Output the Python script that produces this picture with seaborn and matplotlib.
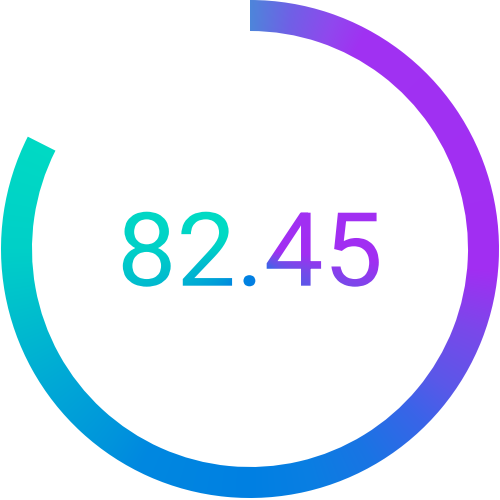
import numpy as np
import matplotlib
matplotlib.use("Agg")
import matplotlib.pyplot as plt
import seaborn as sns
from matplotlib.patches import Wedge, PathPatch
from matplotlib.textpath import TextPath
from matplotlib.font_manager import FontProperties
from matplotlib.transforms import Affine2D
from matplotlib.colors import to_rgb

# gauge value
value = 82.45
max_value = 100
label = "82.45"

# conic gradient stops (degrees clockwise from 12 o'clock)
stop_angles = [0, 10, 20, 28, 95, 110, 125, 135, 150, 165, 180, 207, 216, 235, 257, 270, 297, 360]
stop_colors = ["#4d86da", "#7060e6", "#9048ee", "#a032f2", "#a22ef2", "#7a48ea", "#5a58e8",
               "#3a64e8", "#1a74e4", "#0a7ee2", "#0080e2", "#0088e0", "#0094dc", "#00a8d6",
               "#00c2cc", "#00d0c8", "#00dac4", "#00dac4"]

sns.set_theme(style="white")

W = H = 500
cx, cy = 250, 500 - 249
r_out, ring_w = 249, 31
sweep = value / max_value * 360


def draw_shapes(ax):
    ax.set_xlim(0, W)
    ax.set_ylim(0, H)
    ax.axis("off")
    ring = Wedge((cx, cy), r_out, 90 - sweep, 90, width=ring_w,
                 facecolor="black", edgecolor="none")
    ax.add_patch(ring)
    fp = FontProperties(family="Roboto", weight="normal")
    tp = TextPath((0, 0), label, size=100, prop=fp)
    ext = tp.get_extents()
    s = 75 / ext.height
    sx = 256 / (ext.width * s)  # match the reference text width
    tr = (Affine2D().translate(-ext.x0 - ext.width / 2, -ext.y0 - ext.height / 2)
          .scale(s * sx, s).translate(250.8, H - 249.2))
    ax.add_patch(PathPatch(tr.transform_path(tp), facecolor="black", edgecolor="none"))


# render the shapes once in black to get an antialiased mask
fig_m = plt.figure(figsize=(5, 5), dpi=100)
ax_m = fig_m.add_axes([0, 0, 1, 1])
draw_shapes(ax_m)
fig_m.canvas.draw()
buf = np.asarray(fig_m.canvas.buffer_rgba()).astype(float)
mask = 1 - buf[..., 0] / 255.0
plt.close(fig_m)

# conic gradient over the whole canvas
xs = np.arange(W) + 0.5
ys = H - (np.arange(H) + 0.5)
X, Y = np.meshgrid(xs, ys)
ang = (90 - np.degrees(np.arctan2(Y - cy, X - cx))) % 360
rgb = np.array([to_rgb(c) for c in stop_colors])
img = np.ones((H, W, 4))
for k in range(3):
    img[..., k] = np.interp(ang, stop_angles, rgb[:, k])
img[..., 3] = mask

fig = plt.figure(figsize=(5, 5), dpi=100)
ax = fig.add_axes([0, 0, 1, 1])
ax.set_xlim(0, W)
ax.set_ylim(0, H)
ax.axis("off")
ax.imshow(img, extent=[0, W, 0, H], origin="upper", interpolation="nearest")
fig.savefig("out.png", dpi=100, facecolor="white")
